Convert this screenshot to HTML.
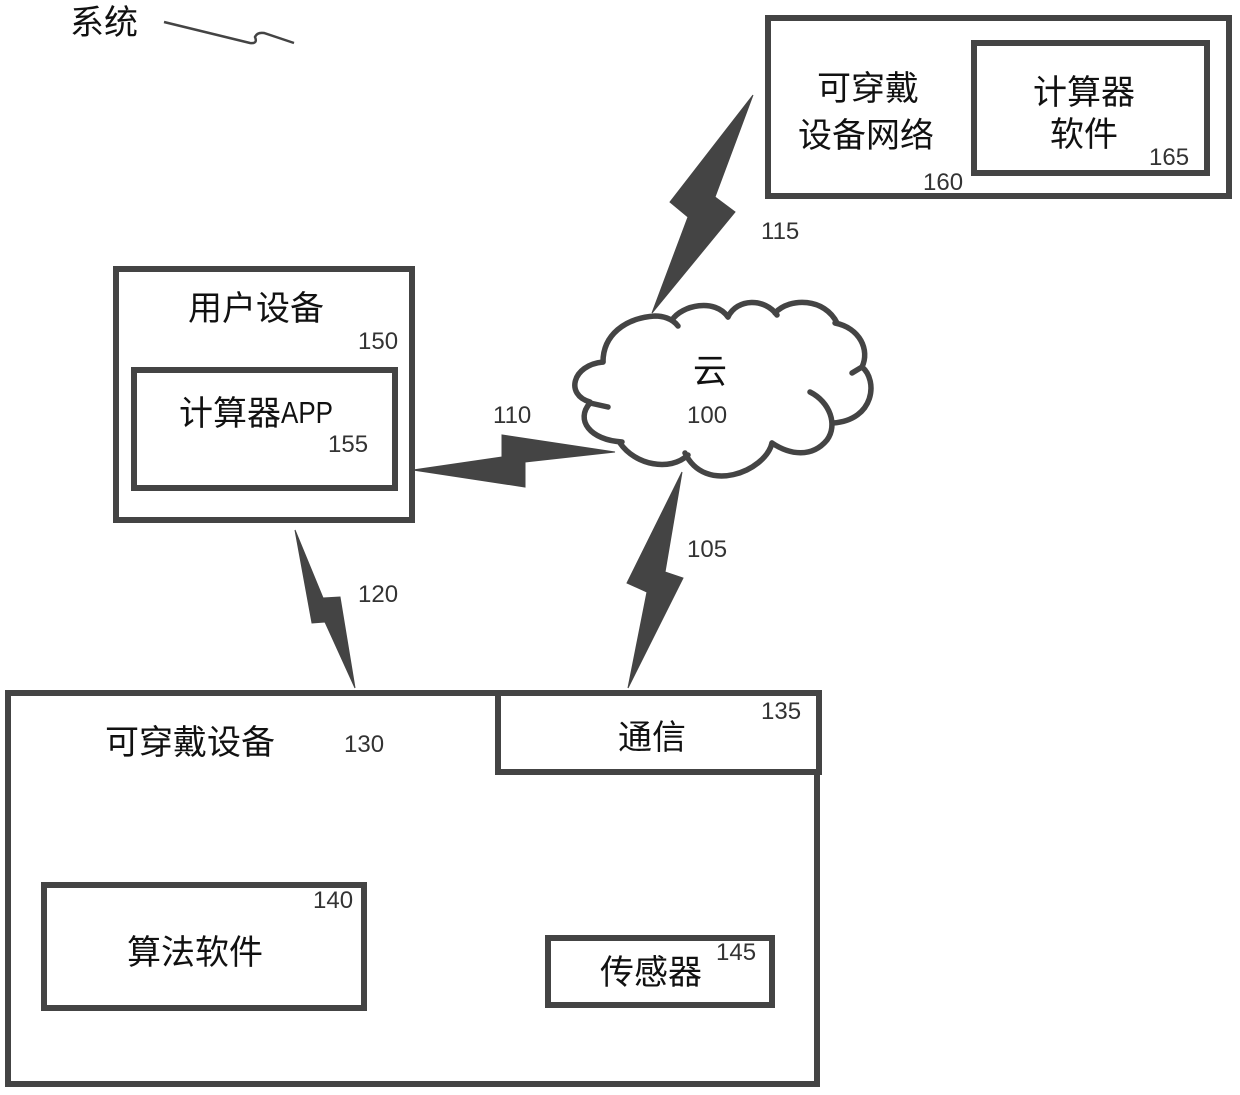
<!DOCTYPE html>
<html><head><meta charset="utf-8"><style>
html,body{margin:0;padding:0;background:#fff}
svg{display:block}
.c{font-family:"Liberation Sans","Noto Sans CJK SC",sans-serif;font-size:34px;fill:#111}
.n{font-family:"Liberation Sans",sans-serif;font-size:24px;fill:#333}
rect{fill:#fff;stroke:#444;stroke-width:6}
.b{fill:#444;stroke:#444;stroke-width:1}
.cl{fill:none;stroke:#444;stroke-width:5.5;stroke-linecap:round}
</style></head><body>
<svg width="1240" height="1095" viewBox="0 0 1240 1095" xmlns="http://www.w3.org/2000/svg">
<text class="c" x="70" y="34">系统</text>
<path d="M164 22 L205 32 L250 43 Q258 44 255 37 Q257 32 264 33 L294 43" fill="none" stroke="#444" stroke-width="2.5"/>

<rect x="768" y="18" width="461" height="178"/>
<rect x="974" y="43" width="233" height="130"/>
<text class="c" x="817" y="100">可穿戴</text>
<text class="c" x="798" y="147">设备网络</text>
<text class="c" x="1033" y="104">计算器</text>
<text class="c" x="1050" y="146">软件</text>
<text class="n" x="1149" y="165">165</text>
<text class="n" x="923" y="190">160</text>
<text class="n" x="761" y="239">115</text>

<rect x="116" y="269" width="296" height="251"/>
<rect x="134" y="370" width="261" height="118"/>
<text class="c" x="188" y="320">用户设备</text>
<text class="c" x="179" y="425">计算器</text>
<text class="c" x="281" y="423" style="font-size:31px" textLength="52" lengthAdjust="spacingAndGlyphs">APP</text>
<text class="n" x="358" y="349">150</text>
<text class="n" x="328" y="452">155</text>

<rect x="8" y="693" width="809" height="391"/>
<rect x="498" y="693" width="321" height="79"/>
<text class="c" x="105" y="754">可穿戴设备</text>
<text class="c" x="618" y="749">通信</text>
<text class="n" x="344" y="752">130</text>
<text class="n" x="761" y="719">135</text>

<rect x="44" y="885" width="320" height="123"/>
<text class="c" x="127" y="964">算法软件</text>
<text class="n" x="313" y="908">140</text>
<rect x="548" y="938" width="224" height="67"/>
<text class="c" x="600" y="984">传感器</text>
<text class="n" x="716" y="960">145</text>

<polygon class="b" points="753,95 715,197 735,212 652,313 688,217 670,202"/>
<polygon class="b" points="413,470 502,457 502,435 615,452 525,462 525,487"/>
<polygon class="b" points="682,472 665,572 683,578 628,688 647,592 627,583"/>
<polygon class="b" points="295,530 323,598 340,597 355,688 325,622 312,623"/>

<path class="cl" d="M603 362 C603 335 625 318 655 316 C662 316 672 318 678 326"/>
<path class="cl" d="M672 320 C682 305 715 298 728 317"/>
<path class="cl" d="M728 317 C737 298 765 298 777 315"/>
<path class="cl" d="M775 313 C790 297 825 298 837 323"/>
<path class="cl" d="M835 323 C860 328 870 350 862 367 L852 373"/>
<path class="cl" d="M862 367 C878 380 875 420 833 423"/>
<path class="cl" d="M810 392 C830 402 838 425 827 440 C812 458 790 455 772 443"/>
<path class="cl" d="M772 443 C765 472 705 495 685 453"/>
<path class="cl" d="M688 455 C670 472 635 465 620 443"/>
<path class="cl" d="M622 442 C590 440 575 420 590 403 L608 407"/>
<path class="cl" d="M590 402 C565 395 572 365 603 362"/>

<text class="c" x="693" y="383">云</text>
<text class="n" x="687" y="423">100</text>
<text class="n" x="493" y="423">110</text>
<text class="n" x="687" y="557">105</text>
<text class="n" x="358" y="602">120</text>
</svg>
</body></html>
